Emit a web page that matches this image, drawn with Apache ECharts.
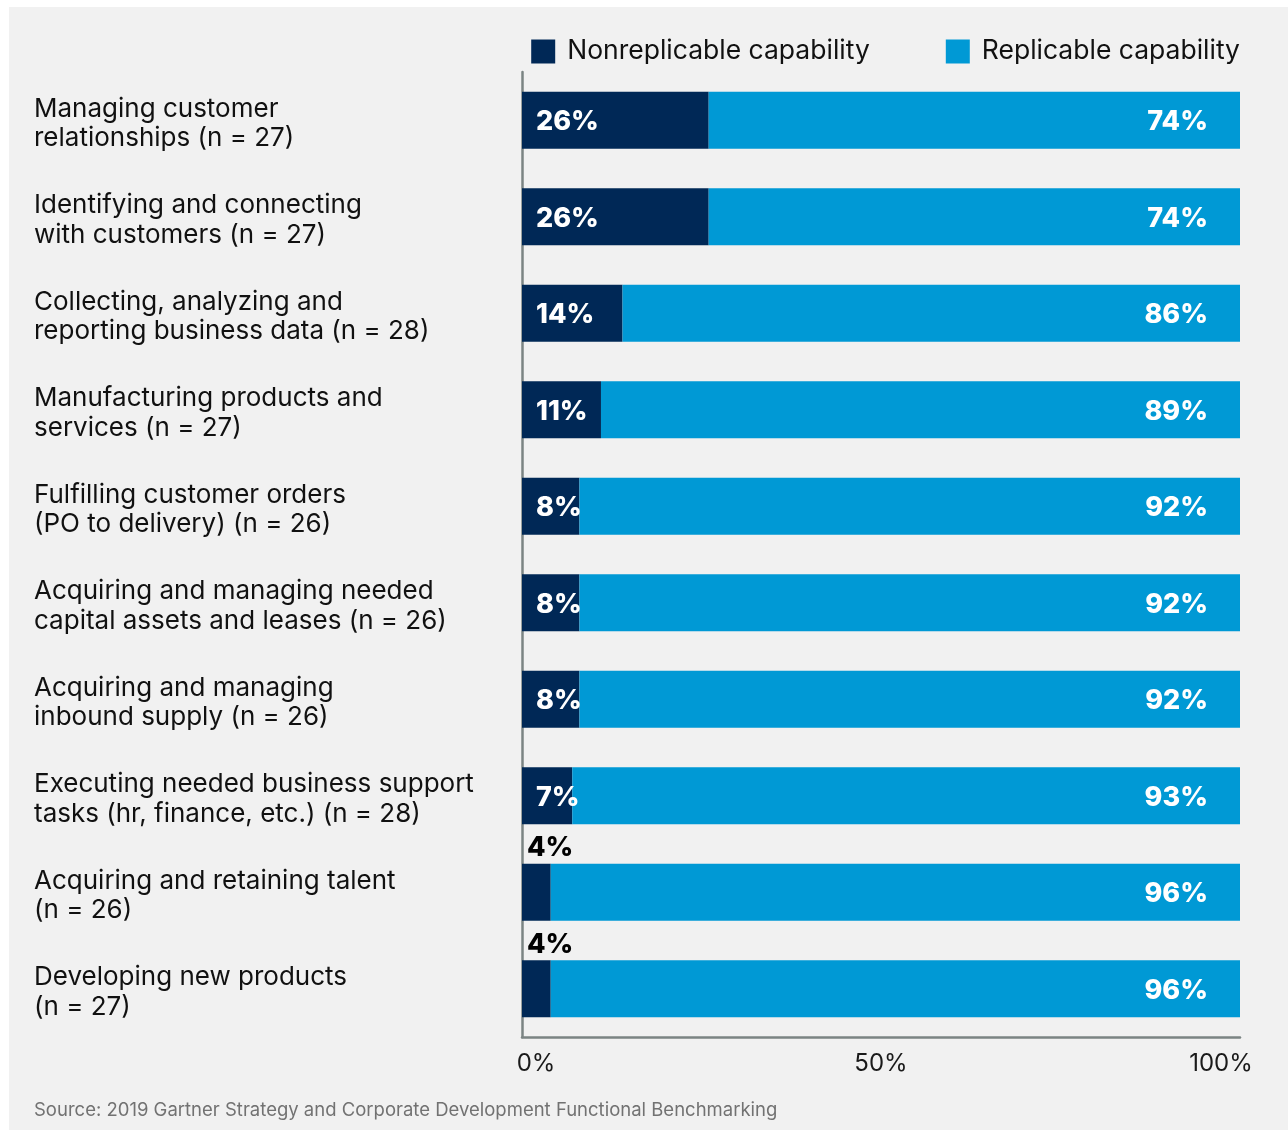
<!DOCTYPE html>
<html>
<head>
<meta charset="utf-8">
<script src="https://cdn.jsdelivr.net/npm/echarts@6/dist/echarts.min.js"></script>
<style>
  html, body { margin: 0; padding: 0; background: #ffffff; }
  #panel { position: absolute; left: 9px; top: 7px; right: 0; bottom: 3px; background: #f1f1f1; }
  #chart { position: absolute; left: 0; top: 0; width: 1288px; height: 1133px; }
</style>
</head>
<body>
<div id="panel"></div>
<div id="chart"></div>
<script>
// Capability categories, top to bottom
const categories = [
  'Managing customer\nrelationships (n = 27)',
  'Identifying and connecting\nwith customers (n = 27)',
  'Collecting, analyzing and\nreporting business data (n = 28)',
  'Manufacturing products and\nservices (n = 27)',
  'Fulfilling customer orders\n(PO to delivery) (n = 26)',
  'Acquiring and managing needed\ncapital assets and leases (n = 26)',
  'Acquiring and managing\ninbound supply (n = 26)',
  'Executing needed business support\ntasks (hr, finance, etc.) (n = 28)',
  'Acquiring and retaining talent\n(n = 26)',
  'Developing new products\n(n = 27)'
];

// Share of respondents (%)
const nonreplicable = [26, 26, 14, 11, 8, 8, 8, 7, 4, 4];
const replicable = [74, 74, 86, 89, 92, 92, 92, 93, 96, 96];

const seriesNames = ['Nonreplicable capability', 'Replicable capability'];
const sourceNote = 'Source: 2019 Gartner Strategy and Corporate Development Functional Benchmarking';

const FONT = 'Inter, "Noto Sans", sans-serif';
const NAVY = '#002856';
const BLUE = '#0099d5';
const AXIS_GREY = '#7b8483';

// Narrow segments get their label placed above the bar
const nonrepData = nonreplicable.map(v => v < 5 ? {
  value: v,
  label: {
    position: [5, -2],
    align: 'left',
    verticalAlign: 'bottom',
    offset: [0, 0],
    color: '#000000'
  }
} : v);

const valueLabel = {
  show: true,
  fontFamily: FONT,
  fontSize: 27,
  fontWeight: 800,
  color: '#ffffff',
  offset: [0, 2],
  formatter: p => p.value + '%'
};

const catText = { fontFamily: FONT, fontSize: 26, color: '#111111' };

const chart = echarts.init(document.getElementById('chart'));
chart.setOption({
  backgroundColor: 'transparent',
  animation: false,
  legend: {
    top: 33,
    right: 43,
    itemWidth: 24,
    itemHeight: 24,
    itemGap: 76,
    icon: 'rect',
    textStyle: {
      fontFamily: FONT,
      fontSize: 26.5,
      color: '#111111',
      padding: [0, 0, 0, 7]
    },
    data: seriesNames
  },
  title: {
    text: sourceNote,
    left: 29,
    top: 1096,
    textStyle: {
      fontFamily: FONT,
      fontSize: 18.5,
      fontWeight: 'normal',
      color: '#727272'
    }
  },
  grid: {
    left: 522,
    right: 48,
    top: 72,
    bottom: 96,
    containLabel: false
  },
  xAxis: {
    type: 'value',
    min: 0,
    max: 100,
    interval: 50,
    axisLine: { show: true, lineStyle: { color: AXIS_GREY, width: 2.5 } },
    axisTick: { show: false },
    splitLine: { show: false },
    axisLabel: {
      margin: 15,
      formatter: v => v === 0 ? '{lo|' + v + '%}' : (v === 100 ? '{hi|' + v + '%}' : '{mid|' + v + '%}'),
      rich: {
        lo: { fontFamily: FONT, fontSize: 24, color: '#1a1a1a', padding: [0, 0, 0, 28] },
        mid: { fontFamily: FONT, fontSize: 24, color: '#1a1a1a' },
        hi: { fontFamily: FONT, fontSize: 24, color: '#1a1a1a', padding: [0, 38, 0, 0] }
      }
    }
  },
  yAxis: {
    type: 'category',
    inverse: true,
    data: categories,
    axisLine: { show: true, lineStyle: { color: AXIS_GREY, width: 2.5 } },
    axisTick: { show: false },
    axisLabel: {
      align: 'left',
      margin: 488,
      // first line sits in a taller box so the two-line block drops slightly below the bar centre
      formatter: v => v.split('\n').map((s, i) => '{' + (i === 0 ? 'first' : 'rest') + '|' + s + '}').join('\n'),
      rich: {
        first: Object.assign({ lineHeight: 36, verticalAlign: 'bottom' }, catText),
        rest: Object.assign({ lineHeight: 33 }, catText)
      }
    }
  },
  series: [
    {
      name: seriesNames[0],
      type: 'bar',
      stack: 'total',
      barWidth: '59%',
      itemStyle: { color: NAVY },
      label: Object.assign({}, valueLabel, { position: 'insideLeft', distance: 14 }),
      data: nonrepData
    },
    {
      name: seriesNames[1],
      type: 'bar',
      stack: 'total',
      barWidth: '59%',
      itemStyle: { color: BLUE },
      label: Object.assign({}, valueLabel, { position: 'insideRight', distance: 32 }),
      data: replicable
    }
  ]
});
</script>
</body>
</html>
